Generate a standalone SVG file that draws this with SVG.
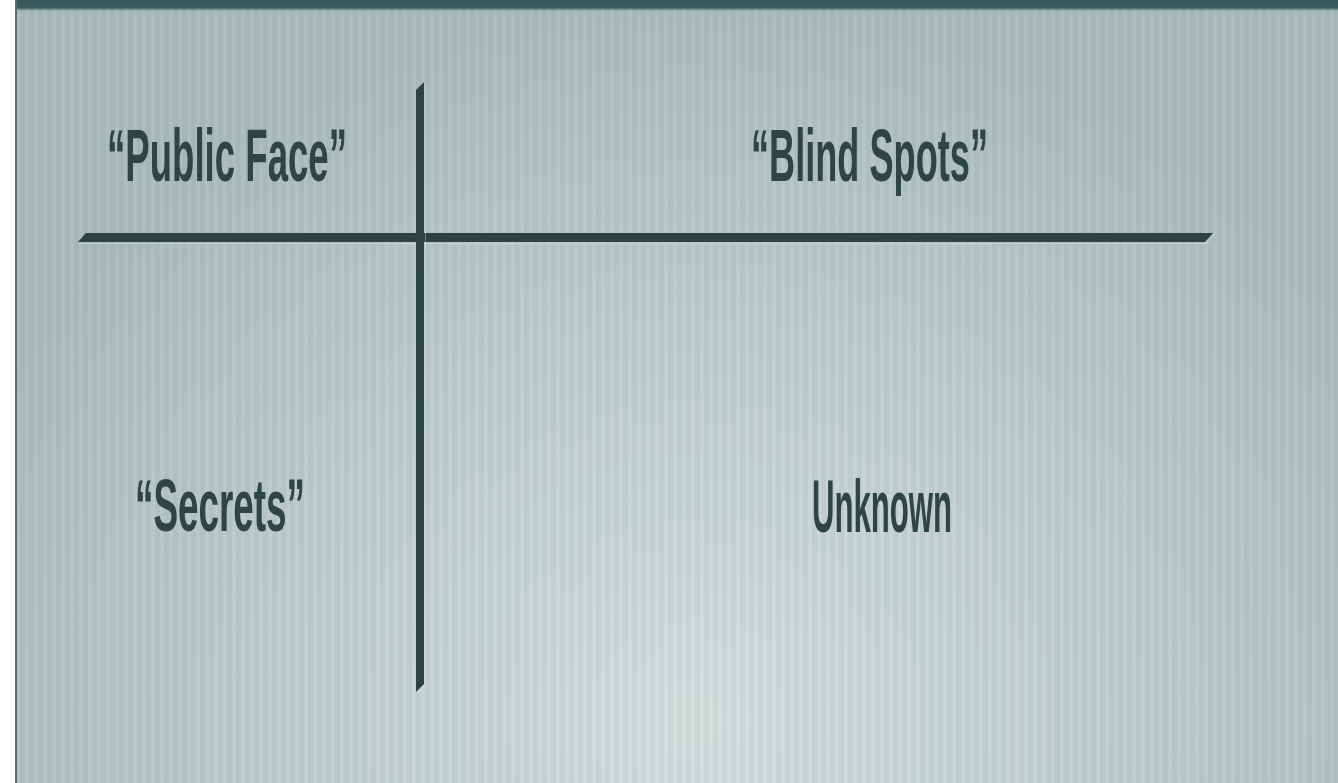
<svg xmlns="http://www.w3.org/2000/svg" width="1338" height="783" viewBox="0 0 1338 783">
<defs>
<radialGradient id="bg" cx="700" cy="720" r="800" gradientUnits="userSpaceOnUse" gradientTransform="translate(700 720) scale(1 0.9) translate(-700 -720)">
<stop offset="0" stop-color="#d3dedd"/>
<stop offset="0.55" stop-color="#bccbca"/>
<stop offset="1" stop-color="#a6b9b8"/>
</radialGradient>
<pattern id="stripes" x="16" y="0" width="9" height="20" patternUnits="userSpaceOnUse">
<rect x="0" y="0" width="9" height="20" fill="#ffffff" fill-opacity="0.06"/>
<rect x="4" y="0" width="5" height="20" fill="#4a6a68" fill-opacity="0.07"/>
</pattern>
<linearGradient id="topbar" x1="0" y1="0" x2="0" y2="1">
<stop offset="0" stop-color="#36585a"/>
<stop offset="0.7" stop-color="#3b5d5e"/>
<stop offset="1" stop-color="#3b5d5e" stop-opacity="0"/>
</linearGradient>
</defs>
<style>
.lbl{font-family:"Liberation Sans",Arial,sans-serif;font-size:74px;font-weight:bold;fill:#2d4644;text-anchor:start;}
.bar{fill:#2d4342;}
.hl{fill:#e6eeee;fill-opacity:0.35;}
</style>
<rect x="0" y="0" width="1338" height="783" fill="#ffffff"/>
<rect x="16" y="0" width="1322" height="783" fill="url(#bg)"/>
<rect x="16" y="0" width="1322" height="783" fill="url(#stripes)"/>
<rect x="16" y="0" width="1322" height="11" fill="url(#topbar)"/>
<rect x="15" y="0" width="2" height="783" fill="#5e6a69"/>
<g id="connectors">
<polygon class="hl" points="79,243 1205,243 1214,234 1215,235 1206,244 79,244"/>
<polygon id="hline" class="bar" points="86,233 1213,233 1205,242 78,242"/>
<polygon class="hl" points="425,83 426,83 426,684 418,694 417,693 425,684"/>
<polygon id="vline" class="bar" points="416,90 424,82 424,684 416,692"/>
</g>
<g id="node-public-face"><text class="lbl" x="107" y="181" textLength="240" lengthAdjust="spacingAndGlyphs">“Public Face”</text></g>
<g id="node-blind-spots"><text class="lbl" x="751" y="181" textLength="237" lengthAdjust="spacingAndGlyphs">“Blind Spots”</text></g>
<g id="node-secrets"><text class="lbl" x="135" y="531" textLength="170" lengthAdjust="spacingAndGlyphs">“Secrets”</text></g>
<g id="node-unknown"><text class="lbl" x="812" y="532" textLength="140" lengthAdjust="spacingAndGlyphs">Unknown</text></g>
</svg>
